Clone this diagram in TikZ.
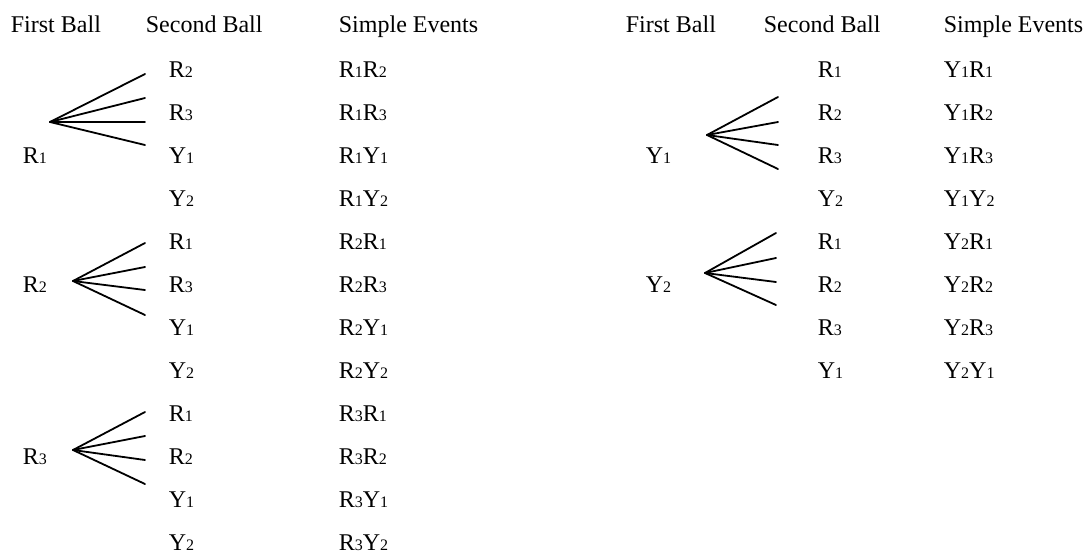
\documentclass[tikz,border=0pt]{standalone}
\usepackage{fontspec}
\setmainfont{Liberation Serif}
\newcommand{\sbs}[1]{{\fontsize{8}{9}\selectfont #1}}
\begin{document}
\begin{tikzpicture}[x=0.5pt,y=-0.5pt,line width=0.9pt,line cap=round,font=\fontsize{12}{14}\selectfont]
\tikzset{every node/.style={anchor=base west,inner sep=0pt}}
\useasboundingbox (0,0) rectangle (1084,558);
% headers
\node (hfa) at (10,32) {First Ball};
\node (hsa) at (145,32) {Second Ball};
\node (hea) at (338,32) {Simple Events};
\node (hfb) at (625,32) {First Ball};
\node (hsb) at (763,32) {Second Ball};
\node (heb) at (943,32) {Simple Events};
% first ball
\node (r1) at (22,{77+43*2}) {R\sbs1};
\node (r2) at (22,{77+43*5}) {R\sbs2};
\node (r3) at (22,{77+43*9}) {R\sbs3};
\node (y1) at (645,{77+43*2}) {Y\sbs1};
\node (y2) at (645,{77+43*5}) {Y\sbs2};
% second ball and simple events
\foreach \t [count=\i from 0] in {R\sbs2,R\sbs3,Y\sbs1,Y\sbs2,R\sbs1,R\sbs3,Y\sbs1,Y\sbs2,R\sbs1,R\sbs2,Y\sbs1,Y\sbs2}
  \node (sa\i) at (168,{77+43*\i}) {\t};
\foreach \t [count=\i from 0] in {R\sbs1R\sbs2,R\sbs1R\sbs3,R\sbs1Y\sbs1,R\sbs1Y\sbs2,R\sbs2R\sbs1,R\sbs2R\sbs3,R\sbs2Y\sbs1,R\sbs2Y\sbs2,R\sbs3R\sbs1,R\sbs3R\sbs2,R\sbs3Y\sbs1,R\sbs3Y\sbs2}
  \node (ea\i) at (338,{77+43*\i}) {\t};
\foreach \t [count=\i from 0] in {R\sbs1,R\sbs2,R\sbs3,Y\sbs2,R\sbs1,R\sbs2,R\sbs3,Y\sbs1}
  \node (sb\i) at (817,{77+43*\i}) {\t};
\foreach \t [count=\i from 0] in {Y\sbs1R\sbs1,Y\sbs1R\sbs2,Y\sbs1R\sbs3,Y\sbs1Y\sbs2,Y\sbs2R\sbs1,Y\sbs2R\sbs2,Y\sbs2R\sbs3,Y\sbs2Y\sbs1}
  \node (eb\i) at (943,{77+43*\i}) {\t};
% fans
\foreach \n/\ax/\ay/\ex/\ys in {fr1/50/122/145/{74,98,122,145},fr2/73/281/145/{243,267,290,315},fr3/73/450/145/{412,436,460,484},fy1/707/135/778/{97,122,145,169},fy2/705/273/776/{233,258,282,305}}{
  \coordinate (\n) at (\ax,\ay);
  \foreach \y [count=\k] in \ys {
    \coordinate (\n e\k) at (\ex,\y);
    \draw (\n) -- (\n e\k);
  }
}
\end{tikzpicture}
\end{document}
